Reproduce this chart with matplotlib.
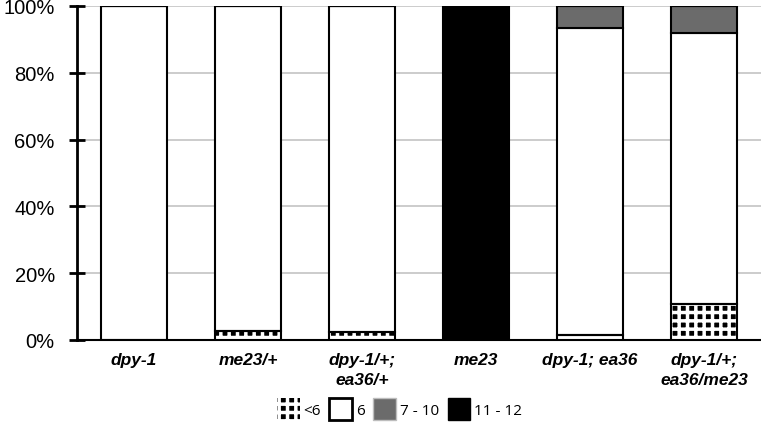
import matplotlib.pyplot as plt
from matplotlib.patches import Patch
import numpy as np

categories = ['dpy-1', 'me23/+', 'dpy-1/+;\nea36/+', 'me23', 'dpy-1; ea36', 'dpy-1/+;\nea36/me23']
# fractions of each class per genotype
lt6 = [0.0, 0.027, 0.025, 0.0, 0.015, 0.107]
six = [1.0, 0.973, 0.975, 0.0, 0.919, 0.813]
sev_ten = [0.0, 0.0, 0.0, 0.0, 0.066, 0.080]
elev_twelve = [0.0, 0.0, 0.0, 1.0, 0.0, 0.0]

series = ['<6', '6', '7 - 10', '11 - 12']
gray = '#6b6b6b'

plt.rcParams['font.family'] = ['Liberation Sans', 'DejaVu Sans']
plt.rcParams['hatch.linewidth'] = 2.5

fig = plt.figure(figsize=(7.61, 4.35), dpi=100)
ax = fig.add_axes([77 / 761, 94 / 435, 1 - 77 / 761, 334 / 435])

x = np.arange(len(categories))
w = 0.58
lt6 = np.array(lt6)
six = np.array(six)
sev_ten = np.array(sev_ten)
elev_twelve = np.array(elev_twelve)

# checker layer: black face, white hatch, outline drawn separately
ax.bar(x, lt6, w, color='black', edgecolor='white', hatch='++', linewidth=0, zorder=3)
ax.bar(x, lt6, w, fill=False, edgecolor='black', linewidth=1.5, zorder=4)
ax.bar(x, six, w, bottom=lt6, color='white', edgecolor='black', linewidth=1.5, zorder=3)
b2 = lt6 + six
ax.bar(x, sev_ten, w, bottom=b2, color=gray, edgecolor='black', linewidth=1.5, zorder=3)
b3 = b2 + sev_ten
ax.bar(x, elev_twelve, w, bottom=b3, color='black', edgecolor='black', linewidth=1.5, zorder=3)

ax.set_xlim(-0.5, len(categories) - 0.5)
ax.set_ylim(0, 1)
ax.set_yticks(np.arange(0, 1.01, 0.2))
ax.set_yticklabels([f'{int(v * 100)}%' for v in np.arange(0, 1.01, 0.2)], fontsize=14.5)
ax.yaxis.grid(True, color='#c4c4c4', linewidth=1.2, zorder=0)
ax.set_axisbelow(True)

ax.set_xticks(x)
ax.set_xticklabels(categories, fontsize=12.5, fontweight='bold', fontstyle='italic',
                   linespacing=1.4, va='top')
ax.tick_params(axis='x', length=0, pad=9)
ax.tick_params(axis='y', direction='inout', length=12, width=2, pad=10)

for s in ['top', 'right']:
    ax.spines[s].set_visible(False)
ax.spines['left'].set_linewidth(2)
ax.spines['bottom'].set_linewidth(1.5)

handles = [
    Patch(facecolor='black', edgecolor='white', hatch='++', linewidth=0),
    Patch(facecolor='white', edgecolor='black', linewidth=2),
    Patch(facecolor=gray, edgecolor='#bdbdbd', linewidth=1),
    Patch(facecolor='black', edgecolor='black'),
]
fig.legend(handles, series, loc='center', bbox_to_anchor=(0.525, 0.057), ncol=4,
           frameon=False, handlelength=1.5, handleheight=1.8,
           handletextpad=0.25, columnspacing=0.55,
           prop={'family': ['Open Sans', 'DejaVu Sans'], 'size': 11})

fig.savefig('out.png', dpi=100)
